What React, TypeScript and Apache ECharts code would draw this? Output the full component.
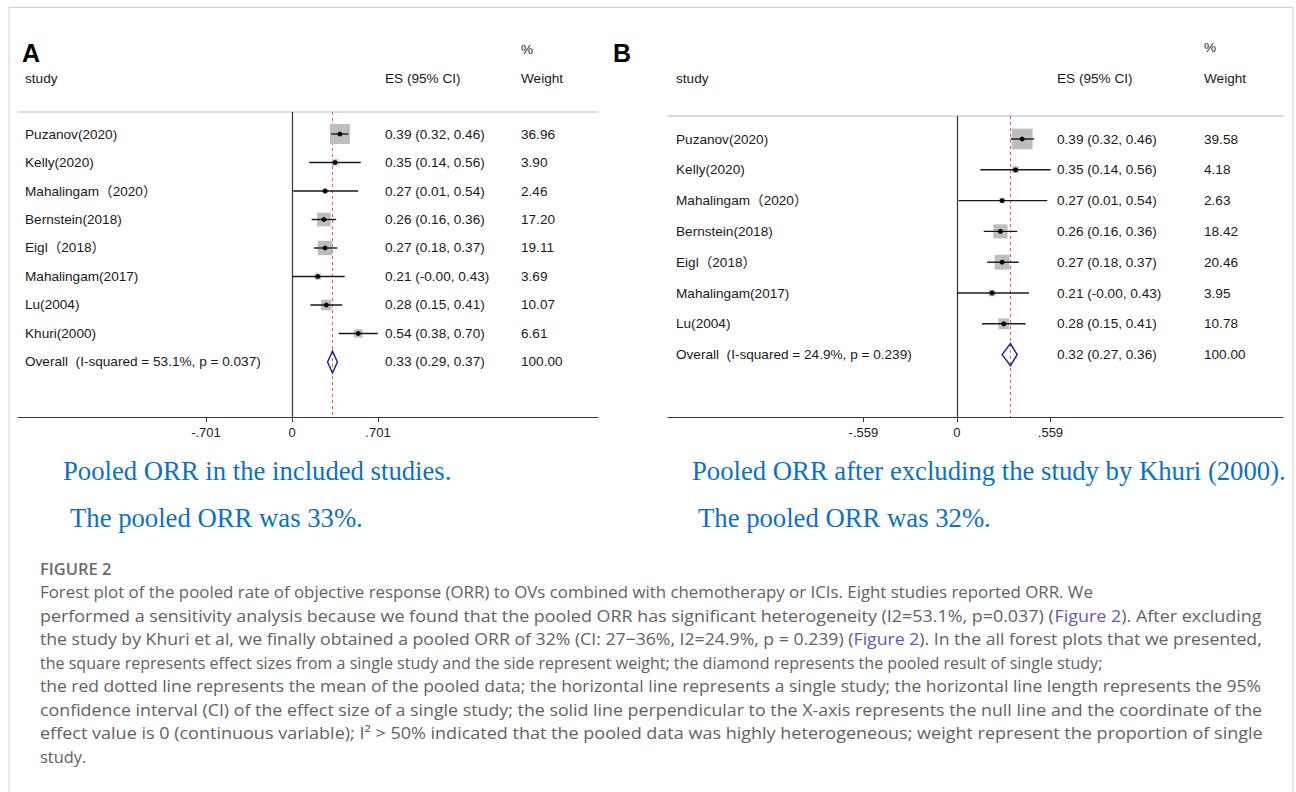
import React, { useEffect, useRef } from "react";
import * as echarts from "echarts";

// ---------- Panel A data ----------
const studiesA = ["Puzanov(2020)", "Kelly(2020)", "Mahalingam（2020）", "Bernstein(2018)", "Eigl（2018）", "Mahalingam(2017)", "Lu(2004)", "Khuri(2000)"];
const esA = [0.39, 0.35, 0.27, 0.26, 0.27, 0.21, 0.28, 0.54];
const loA = [0.32, 0.14, 0.01, 0.16, 0.18, -0.0, 0.15, 0.38];
const hiA = [0.46, 0.56, 0.54, 0.36, 0.37, 0.43, 0.41, 0.7];
const ciTextA = ["0.39 (0.32, 0.46)", "0.35 (0.14, 0.56)", "0.27 (0.01, 0.54)", "0.26 (0.16, 0.36)", "0.27 (0.18, 0.37)", "0.21 (-0.00, 0.43)", "0.28 (0.15, 0.41)", "0.54 (0.38, 0.70)"];
const weightA = [36.96, 3.9, 2.46, 17.2, 19.11, 3.69, 10.07, 6.61];
const overallLabelA = "Overall  (I-squared = 53.1%, p = 0.037)";
const overallA = [0.33, 0.29, 0.37];
const overallTextA = "0.33 (0.29, 0.37)";
const ticksA = [-0.701, 0, 0.701];

// ---------- Panel B data ----------
const studiesB = ["Puzanov(2020)", "Kelly(2020)", "Mahalingam（2020）", "Bernstein(2018)", "Eigl（2018）", "Mahalingam(2017)", "Lu(2004)"];
const esB = [0.39, 0.35, 0.27, 0.26, 0.27, 0.21, 0.28];
const loB = [0.32, 0.14, 0.01, 0.16, 0.18, -0.0, 0.15];
const hiB = [0.46, 0.56, 0.54, 0.36, 0.37, 0.43, 0.41];
const ciTextB = ["0.39 (0.32, 0.46)", "0.35 (0.14, 0.56)", "0.27 (0.01, 0.54)", "0.26 (0.16, 0.36)", "0.27 (0.18, 0.37)", "0.21 (-0.00, 0.43)", "0.28 (0.15, 0.41)"];
const weightB = [39.58, 4.18, 2.63, 18.42, 20.46, 3.95, 10.78];
const overallLabelB = "Overall  (I-squared = 24.9%, p = 0.239)";
const overallB = [0.32, 0.27, 0.36];
const overallTextB = "0.32 (0.27, 0.36)";
const ticksB = [-0.559, 0, 0.559];

// ---------- Texts ----------
const blueTextA = ["Pooled ORR in the included studies.", "The pooled ORR was 33%."];
const blueTextB = ["Pooled ORR after excluding the study by Khuri (2000).", "The pooled ORR was 32%."];
const captionTitle = "FIGURE 2";
const captionLines = [
  "Forest plot of the pooled rate of objective response (ORR) to OVs combined with chemotherapy or ICIs. Eight studies reported ORR. We",
  "performed a sensitivity analysis because we found that the pooled ORR has significant heterogeneity (I2=53.1%, p=0.037) ({a|Figure 2}). After excluding",
  "the study by Khuri et al, we finally obtained a pooled ORR of 32% (CI: 27−36%, I2=24.9%, p = 0.239) ({a|Figure 2}). In the all forest plots that we presented,",
  "the square represents effect sizes from a single study and the side represent weight; the diamond represents the pooled result of single study;",
  "the red dotted line represents the mean of the pooled data; the horizontal line represents a single study; the horizontal line length represents the 95%",
  "confidence interval (CI) of the effect size of a single study; the solid line perpendicular to the X-axis represents the null line and the coordinate of the",
  "effect value is 0 (continuous variable); I² > 50% indicated that the pooled data was highly heterogeneous; weight represent the proportion of single",
  "study.",
];
// right edge of each printed caption line; null = natural width
const captionRight: (number | null)[] = [1093, 1262, 1262, 1102, 1262, 1262, 1262, null];

const SANS = '"Liberation Sans", Arial, "Noto Sans CJK SC", sans-serif';
const TXT = "#1a1a1a";
const TFS = 13.6;
const CAP_FS = 16.4;
const CAP_FAMILY = '"Open Sans"';

function buildData(es: number[], lo: number[], hi: number[], w: number[], ov: number[]) {
  const rows: number[][] = es.map((v, i) => [i, v, lo[i], hi[i], w[i], 0]);
  rows.push([es.length, ov[0], ov[1], ov[2], 100, 1]);
  return rows;
}

function makeRender(names: string[], ciTexts: string[], weights: string[], cols: { name: number; ci: number; w: number }) {
  return (params: any, api: any) => {
    const i = params.dataIndex;
    const row = api.value(0);
    const es = api.value(1);
    const lo = api.value(2);
    const hi = api.value(3);
    const w = api.value(4);
    const kind = api.value(5);
    const [xEs, y] = api.coord([es, row]);
    const xLo = api.coord([lo, row])[0];
    const xHi = api.coord([hi, row])[0];
    const children: any[] = [];
    if (kind === 1) {
      children.push({
        type: "polygon",
        shape: { points: [[xLo, y], [xEs, y - 11], [xHi, y], [xEs, y + 11]] },
        style: { fill: "none", stroke: "#25258f", lineWidth: 1.5 },
      });
    } else {
      const s = 3.3 * Math.sqrt(w);
      children.push({ type: "rect", shape: { x: xEs - s / 2, y: y - s / 2, width: s, height: s }, style: { fill: "#bdbdbd" } });
      children.push({ type: "line", shape: { x1: xLo, y1: y, x2: xHi, y2: y }, style: { stroke: "#1a1a1a", lineWidth: 1.4 } });
      children.push({ type: "circle", shape: { cx: xEs, cy: y, r: 2.4 }, style: { fill: "#000" } });
    }
    const font = `${TFS}px ${SANS}`;
    children.push({ type: "text", x: cols.name, y, style: { text: names[i], font, fill: TXT, textAlign: "left", textVerticalAlign: "middle" } });
    children.push({ type: "text", x: cols.ci, y, style: { text: ciTexts[i], font, fill: TXT, textAlign: "left", textVerticalAlign: "middle" } });
    children.push({ type: "text", x: cols.w, y, style: { text: weights[i], font, fill: TXT, textAlign: "left", textVerticalAlign: "middle" } });
    return { type: "group", children };
  };
}

const tickFmt = (v: number) => (v === 0 ? "0" : (v < 0 ? "-" : "") + Math.abs(v).toFixed(3).replace(/^0/, ""));

function bottomAxis(gridIndex: number, min: number, max: number, ticks: number[]) {
  return {
    type: "value",
    gridIndex,
    position: "bottom",
    min,
    max,
    splitLine: { show: false },
    axisLine: { show: true, onZero: false, lineStyle: { color: "#3a3a3a", width: 1.2 } },
    axisTick: { show: true, customValues: ticks, length: 5, lineStyle: { color: "#3a3a3a" } },
    axisLabel: { show: true, customValues: ticks, formatter: tickFmt, color: TXT, fontSize: 13, fontFamily: SANS, margin: 9 },
  };
}
function topAxis(gridIndex: number, min: number, max: number) {
  return {
    type: "value",
    gridIndex,
    position: "top",
    min,
    max,
    splitLine: { show: false },
    axisLine: { show: true, onZero: false, lineStyle: { color: "#cfcfcf", width: 1.5 } },
    axisTick: { show: false },
    axisLabel: { show: false },
  };
}

function refLines(xAxisIndex: number, yAxisIndex: number, pooled: number) {
  return {
    type: "line",
    xAxisIndex,
    yAxisIndex,
    data: [],
    z: 1,
    markLine: {
      silent: true,
      symbol: ["none", "none"],
      label: { show: false },
      animation: false,
      data: [
        { xAxis: 0, lineStyle: { color: "#333", type: "solid", width: 1.2 } },
        { xAxis: pooled, lineStyle: { color: "#e05a5a", type: [3, 3], width: 1 } },
      ],
    },
  };
}

function captionGraphics(): any[] {
  const ctx = document.createElement("canvas").getContext("2d")!;
  const plain = (s: string) => s.replace(/\{a\|([^}]*)\}/g, "$1");
  const font = `${CAP_FS}px ${CAP_FAMILY}`;
  ctx.font = font;
  const x0 = 40;
  return captionLines.map((line, k) => {
    const y = 592 + k * 23.5;
    const right = captionRight[k];
    const natural = ctx.measureText(plain(line)).width;
    const sx = right == null ? 1 : (right - x0) / natural;
    return {
      type: "text",
      x: x0,
      y,
      scaleX: sx,
      style: {
        text: line,
        x: 0,
        y: 0,
        font,
        fill: "#626262",
        textAlign: "left",
        textVerticalAlign: "middle",
        rich: { a: { fill: "#5b5bb8", fontSize: CAP_FS, fontFamily: "Open Sans" } },
      },
    };
  });
}

export default function App() {
  const ref = useRef<HTMLDivElement>(null);
  useEffect(() => {
    if (!ref.current) return;
    const chart = echarts.init(ref.current, undefined, { renderer: "svg" });

    const namesA = [...studiesA, overallLabelA];
    const cisA = [...ciTextA, overallTextA];
    const wsA = [...weightA.map((w) => w.toFixed(2)), "100.00"];
    const namesB = [...studiesB, overallLabelB];
    const cisB = [...ciTextB, overallTextB];
    const wsB = [...weightB.map((w) => w.toFixed(2)), "100.00"];

    const headFont = `${TFS}px ${SANS}`;
    const header = (x: number, y: number, text: string) => ({
      type: "text",
      style: { text, x, y, font: headFont, fill: TXT, textAlign: "left", textVerticalAlign: "middle" },
    });
    const blue = (x: number, y: number, text: string) => ({
      type: "text",
      style: { text, x, y, font: '26.7px "Liberation Serif", "Times New Roman", serif', fill: "#0a72c4", textAlign: "left", textVerticalAlign: "middle" },
    });

    const graphics: any[] = [
      { type: "polyline", shape: { points: [[9, 792], [9, 7.5], [1293, 7.5], [1293, 792]] }, style: { stroke: "#d0d0d0", lineWidth: 1, fill: "none" } },
      { type: "text", style: { text: "A", x: 22, y: 53, font: `bold 25px ${SANS}`, fill: "#000", textAlign: "left", textVerticalAlign: "middle" } },
      { type: "text", style: { text: "B", x: 613, y: 53, font: `bold 25px ${SANS}`, fill: "#000", textAlign: "left", textVerticalAlign: "middle" } },
      header(25, 78, "study"),
      header(385, 78, "ES (95% CI)"),
      header(521, 49, "%"),
      header(521, 78, "Weight"),
      header(676, 78, "study"),
      header(1057, 78, "ES (95% CI)"),
      header(1204, 47, "%"),
      header(1204, 78, "Weight"),
      blue(63, 471, blueTextA[0]),
      blue(70, 518, blueTextA[1]),
      blue(692, 471, blueTextB[0]),
      blue(698, 518, blueTextB[1]),
      { type: "text", style: { text: captionTitle, x: 40, y: 568, font: `600 16.5px "Open Sans", sans-serif`, fill: "#6b6b6b", textAlign: "left", textVerticalAlign: "middle" } },
      ...captionGraphics(),
    ];

    chart.setOption({
      animation: false,
      backgroundColor: "#ffffff",
      grid: [
        { left: 18, top: 112, width: 580, height: 305, containLabel: false },
        { left: 668, top: 116, width: 615, height: 301, containLabel: false },
      ],
      xAxis: [
        bottomAxis(0, -2.233, 2.494, ticksA),
        topAxis(0, -2.233, 2.494),
        bottomAxis(1, -1.727, 1.949, ticksB),
        topAxis(1, -1.727, 1.949),
      ],
      yAxis: [
        { type: "value", gridIndex: 0, inverse: true, min: -0.772, max: 9.93, show: false },
        { type: "value", gridIndex: 1, inverse: true, min: -0.747, max: 9.026, show: false },
      ],
      series: [
        refLines(0, 0, overallA[0]),
        refLines(2, 1, overallB[0]),
        {
          type: "custom",
          xAxisIndex: 0,
          yAxisIndex: 0,
          z: 5,
          clip: false,
          renderItem: makeRender(namesA, cisA, wsA, { name: 25, ci: 385, w: 521 }),
          data: buildData(esA, loA, hiA, weightA, overallA),
        },
        {
          type: "custom",
          xAxisIndex: 2,
          yAxisIndex: 1,
          z: 5,
          clip: false,
          renderItem: makeRender(namesB, cisB, wsB, { name: 676, ci: 1057, w: 1204 }),
          data: buildData(esB, loB, hiB, weightB, overallB),
        },
      ],
      graphic: graphics,
    });
    return () => chart.dispose();
  }, []);
  return <div ref={ref} style={{ position: "absolute", left: 0, top: 0, width: 1296, height: 792 }} />;
}
